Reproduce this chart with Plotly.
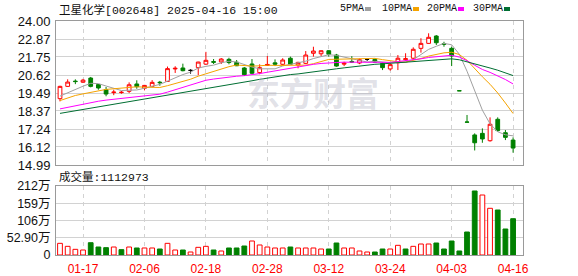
import plotly.graph_objects as go
import pandas as pd

# ---------------- data ----------------
dates = ["01-14", "01-15", "01-16", "01-17", "01-20", "01-21", "01-22", "01-23", "01-24", "01-27",
         "02-05", "02-06", "02-07", "02-10", "02-11", "02-12", "02-13", "02-14", "02-17", "02-18",
         "02-19", "02-20", "02-21", "02-24", "02-25", "02-26", "02-27", "02-28", "03-03", "03-04",
         "03-05", "03-06", "03-07", "03-10", "03-11", "03-12", "03-13", "03-14", "03-17", "03-18",
         "03-19", "03-20", "03-21", "03-24", "03-25", "03-26", "03-27", "03-28", "03-31", "04-01",
         "04-02", "04-03", "04-07", "04-08", "04-09", "04-10", "04-11", "04-14", "04-15", "04-16"]

opens = [19.14, 19.91, 20.24, 20.17, 20.43, 20.02, 19.70, 19.52, 19.52, 19.60,
         20.06, 19.79, 19.91, 20.17, 20.22, 21.00, 21.06, 20.91, 21.08, 21.30,
         21.46, 21.44, 21.60, 21.42, 21.06, 21.31, 20.77, 21.22, 21.38, 21.29,
         21.67, 21.25, 21.35, 21.98, 21.95, 22.14, 21.87, 21.30, 21.47, 21.37,
         21.60, 21.60, 21.35, 21.00, 21.39, 21.58, 21.67, 22.29, 22.60, 23.06,
         22.58, 22.29, 19.64, 17.68, 16.87, 16.97, 16.51, 17.85, 17.01, 16.55]
highs = [19.95, 20.35, 20.35, 20.38, 20.50, 20.06, 19.87, 19.70, 19.62, 20.16,
         20.29, 20.00, 20.30, 20.25, 21.15, 21.17, 21.33, 20.98, 21.45, 22.07,
         21.62, 21.68, 21.70, 21.56, 21.12, 21.62, 21.29, 21.81, 21.60, 21.67,
         21.77, 21.45, 22.12, 22.39, 22.16, 22.18, 21.94, 21.45, 21.80, 21.65,
         21.68, 21.65, 21.41, 21.35, 21.87, 21.98, 22.35, 22.92, 23.23, 23.12,
         22.70, 22.39, 19.64, 18.12, 16.97, 17.28, 17.97, 17.97, 17.18, 16.72]
lows = [18.97, 19.88, 20.05, 20.12, 19.85, 19.70, 19.29, 19.36, 19.45, 19.49,
        19.76, 19.66, 19.85, 19.95, 20.20, 20.75, 20.85, 20.70, 20.61, 21.26,
        21.31, 21.31, 21.29, 21.18, 20.56, 20.67, 20.67, 21.20, 21.18, 21.23,
        21.25, 21.04, 21.30, 21.77, 21.81, 21.77, 21.14, 21.18, 21.37, 21.30,
        21.50, 21.38, 20.93, 20.89, 20.93, 21.50, 21.60, 22.02, 22.58, 22.50,
        22.39, 21.18, 19.63, 17.67, 15.90, 16.38, 16.45, 17.07, 16.55, 15.76]
closes = [19.91, 20.18, 20.21, 20.30, 19.91, 19.81, 19.43, 19.55, 19.54, 20.01,
          19.89, 19.97, 20.16, 20.14, 21.02, 21.04, 20.89, 20.91, 21.43, 21.54,
          21.42, 21.62, 21.40, 21.20, 20.64, 20.73, 21.08, 21.28, 21.30, 21.56,
          21.29, 21.41, 21.87, 22.12, 22.14, 21.92, 21.18, 21.36, 21.43, 21.58,
          21.60, 21.42, 21.08, 21.27, 21.67, 21.64, 22.23, 22.60, 22.98, 22.64,
          22.54, 21.81, 19.63, 17.67, 16.38, 16.62, 17.54, 17.14, 16.72, 16.05]
prev_close = 19.00  # close of the session before the first one shown

# volume, in 万 (10,000 shares)
volumes = [35.8, 26.6, 17.4, 15.3, 37.7, 24.5, 22.5, 24.5, 16.4, 24.5,
           21.5, 21.5, 21.5, 18.4, 35.8, 15.3, 15.3, 9.2, 23.5, 26.6,
           15.3, 12.3, 21.5, 21.5, 27.6, 42.9, 30.7, 24.5, 21.5, 21.5,
           24.5, 21.5, 21.5, 21.5, 18.4, 18.4, 36.8, 21.5, 21.5, 12.3,
           9.2, 9.2, 18.4, 18.4, 29.7, 18.4, 26.6, 33.7, 33.7, 36.8,
           18.4, 42.9, 12.3, 70.5, 196.3, 184.0, 143.2, 138.0, 79.7, 111.2973]

# moving-average values before enough sessions are on screen
ma5_head = [19.30, 19.52, 19.74, 19.92]
ma10_head = [19.02, 19.20, 19.34, 19.44, 19.54, 19.63, 19.72, 19.76, 19.80]
ma20_head = [18.50, 18.60, 18.70, 18.80, 18.90, 18.98, 19.05, 19.10, 19.15, 19.20,
             19.25, 19.30, 19.36, 19.42, 19.55, 19.70, 19.85, 20.00, 20.15]
ma30_head = [18.22, 18.30, 18.38, 18.46, 18.54, 18.62, 18.70, 18.78, 18.86, 18.94,
             19.02, 19.10, 19.18, 19.26, 19.34, 19.42, 19.50, 19.58, 19.66, 19.75,
             19.84, 19.93, 20.02, 20.10, 20.18, 20.26, 20.35, 20.43, 20.52]

price_ticks = [14.99, 16.12, 17.24, 18.37, 19.49, 20.62, 21.75, 22.87, 24.00]
vol_ticks = [0, 52.9, 105.8, 158.7, 211.6]
vol_tick_labels = ["0", "52.90万", "106万", "159万", "212万"]
xtick_dates = ["01-17", "02-06", "02-18", "02-28", "03-12", "03-24", "04-03", "04-16"]

stock_title = "卫星化学[002648] 2025-04-16 15:00"
ma_names = ["5PMA", "10PMA", "20PMA", "30PMA"]

# ---------------- derived ----------------
RED = "#ff0000"
GREEN = "#008000"
MA_COLORS = ["#a0a0a0", "#f5a300", "#ff00ff", "#006e32"]
n = len(dates)
x = list(range(n))
cs = pd.Series(closes)


def moving_avg(win, head):
    r = cs.rolling(win).mean().tolist()
    return list(head) + r[len(head):]


mas = [moving_avg(5, ma5_head), moving_avg(10, ma10_head),
       moving_avg(20, ma20_head), moving_avg(30, ma30_head)]

prevs = [prev_close] + closes[:-1]
vol_up = [c > p for c, p in zip(closes, prevs)]
tick_idx = [dates.index(d) for d in xtick_dates]

fig = go.Figure()


def candles(sel, line_color, fill_color):
    ids = [i for i in x if sel(i)]
    fig.add_trace(go.Candlestick(
        x=ids, open=[opens[i] for i in ids], high=[highs[i] for i in ids],
        low=[lows[i] for i in ids], close=[closes[i] for i in ids],
        increasing=dict(line=dict(color=line_color, width=1), fillcolor=fill_color),
        decreasing=dict(line=dict(color=line_color, width=1), fillcolor=fill_color),
        whiskerwidth=0, hoverinfo="skip", xaxis="x", yaxis="y", showlegend=False))


candles(lambda i: closes[i] > opens[i], RED, "#ffffff")
candles(lambda i: closes[i] < opens[i], GREEN, GREEN)
candles(lambda i: closes[i] == opens[i], "#000000", "#000000")

for vals, col in zip(mas, MA_COLORS):
    fig.add_trace(go.Scatter(x=x, y=vals, mode="lines", line=dict(color=col, width=1),
                             hoverinfo="skip", xaxis="x", yaxis="y", showlegend=False))

fig.add_trace(go.Bar(
    x=x, y=volumes, width=0.62,
    marker=dict(color=["#ffffff" if u else GREEN for u in vol_up],
                line=dict(color=[RED if u else GREEN for u in vol_up], width=1)),
    hoverinfo="skip", xaxis="x2", yaxis="y2", showlegend=False))

FRAME = "#9a9a9a"
GRID = "#d2d2d2"
TICKFONT = dict(family="Liberation Sans, Arial", size=13, color="#111")
xr = [-0.52, n + 0.29]

fig.update_layout(
    width=578, height=276, margin=dict(l=56, r=55, t=21, b=21, autoexpand=False),
    paper_bgcolor="white", plot_bgcolor="white", showlegend=False,
    xaxis=dict(domain=[0, 1], anchor="y", range=xr, tickvals=tick_idx, showticklabels=False,
               ticks="", showgrid=True, gridcolor=GRID, griddash="4px,4px", gridwidth=1,
               zeroline=False, showline=True, linecolor=FRAME, linewidth=1, mirror=True,
               rangeslider=dict(visible=False), automargin=False),
    yaxis=dict(domain=[1 - 144 / 234, 1], anchor="x", range=[price_ticks[0], price_ticks[-1]],
               tickvals=price_ticks, ticktext=["%.2f" % v for v in price_ticks],
               ticks="", tickfont=TICKFONT, showgrid=True, gridcolor=GRID, gridwidth=1,
               zeroline=False, showline=True, linecolor=FRAME, linewidth=1, mirror=True,
               ticklabelstandoff=2, automargin=False),
    xaxis2=dict(domain=[0, 1], anchor="y2", range=xr, tickvals=tick_idx, ticktext=xtick_dates,
                ticks="", tickfont=dict(family="Liberation Sans, Arial", size=12, color=RED),
                showgrid=True, gridcolor=GRID, griddash="4px,4px", gridwidth=1,
                zeroline=False, showline=True, linecolor=FRAME, linewidth=1, mirror=True,
                ticklabelstandoff=3, automargin=False),
    yaxis2=dict(domain=[0, 69 / 234], anchor="x2", range=[vol_ticks[0], vol_ticks[-1]],
                tickvals=vol_ticks, ticktext=vol_tick_labels, ticks="",
                tickfont=dict(family="Liberation Sans, Noto Sans CJK SC", size=12.5, color="#111"),
                showgrid=True, gridcolor=GRID, gridwidth=1, zeroline=False,
                showline=True, linecolor=FRAME, linewidth=1, mirror=True, ticklabelstandoff=2,
                automargin=False),
)


def px_x(p):
    return (p - 56) / 467


def px_y(p):
    return (255 - p) / 234


ann = []
ann.append(dict(x=px_x(57), y=px_y(10), xref="paper", yref="paper", xanchor="left", yanchor="middle",
                text=stock_title, showarrow=False,
                font=dict(family="Liberation Mono, Noto Sans CJK SC", size=11.5, color="#111")))
ann.append(dict(x=px_x(57), y=px_y(177), xref="paper", yref="paper", xanchor="left", yanchor="middle",
                text="成交量:%d" % round(volumes[-1] * 10000), showarrow=False,
                font=dict(family="Liberation Mono, Noto Sans CJK SC", size=11.5, color="#111")))
ann.append(dict(x=px_x(313), y=px_y(92), xref="paper", yref="paper", xanchor="center", yanchor="middle",
                text="<b>东方财富</b>", showarrow=False,
                font=dict(family="Noto Sans CJK SC", size=33, color="rgba(180,180,195,0.4)")))

label_x = [338, 380, 425, 471]
shapes = []
for name, col, lx in zip(ma_names, MA_COLORS, label_x):
    ann.append(dict(x=px_x(lx), y=px_y(9), xref="paper", yref="paper", xanchor="left", yanchor="middle",
                    text=name, showarrow=False,
                    font=dict(family="Liberation Mono", size=10, color="#111")))
    w = len(name) * 6 + 3
    shapes.append(dict(type="rect", xref="paper", yref="paper",
                       x0=px_x(lx + w), x1=px_x(lx + w + 6), y0=px_y(11), y1=px_y(7),
                       fillcolor=col, line=dict(width=0)))

fig.update_layout(annotations=ann, shapes=shapes)
fig.write_html("out.html")
